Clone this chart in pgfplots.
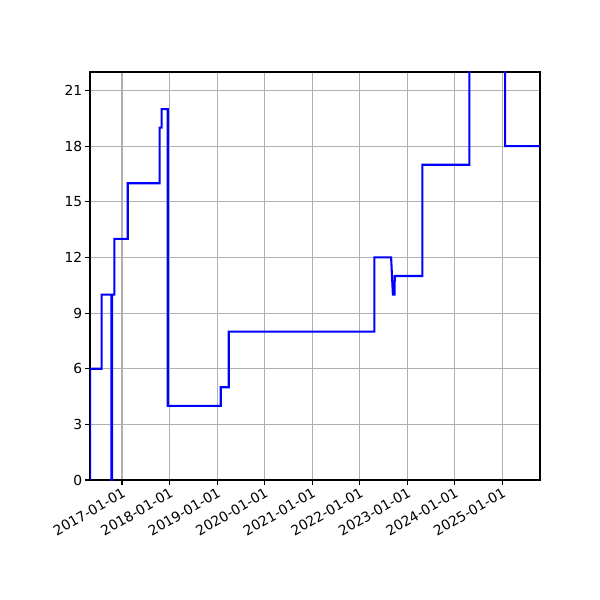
\documentclass[border=0pt]{standalone}
\usepackage{pgfplots}
\pgfplotsset{compat=1.18}
\usepackage{fontspec}
\setmainfont{DejaVu Sans}
\definecolor{gridgray}{HTML}{B0B0B0}
\begin{document}
\fontsize{10}{12}\selectfont
\begin{tikzpicture}
\begin{axis}[
  scale only axis,
  width=324bp, height=293.76bp,
  xmin=2016.326, xmax=2025.796,
  ymin=0, ymax=22,
  xtick={2017,2018,2019,2020,2021,2022,2023,2024,2025},
  xticklabels={2017-01-01,2018-01-01,2019-01-01,2020-01-01,2021-01-01,2022-01-01,2023-01-01,2024-01-01,2025-01-01},
  ytick={0,3,6,9,12,15,18,21},
  xticklabel style={rotate=30, anchor=north east, inner sep=1pt},
  yticklabel style={inner sep=2pt},
  /pgf/number format/assume math mode=true,
  tick align=outside, xtick pos=left, ytick pos=left,
  major tick length=3.5pt,
  tick style={black, line width=0.8pt},
  axis line style={line width=0.8pt},
  grid=major,
  grid style={gridgray, line width=0.8pt},
]
% step series (x in fractional years)
\addplot[blue, line width=1.5pt, sharp plot] coordinates {
  (2016.326,0) (2016.326,6) (2016.572,6) (2016.572,10) (2016.775,10)
  (2016.775,0) (2016.790,0) (2016.790,10) (2016.838,10) (2016.838,13)
  (2017.120,13) (2017.120,16) (2017.793,16) (2017.793,19) (2017.835,19)
  (2017.835,20) (2017.962,20) (2017.962,4) (2019.078,4) (2019.078,5)
  (2019.246,5) (2019.246,8) (2022.311,8) (2022.311,12) (2022.663,12)
  (2022.700,10) (2022.735,10) (2022.740,11) (2023.322,11) (2023.322,17)
  (2024.311,17) (2024.311,24) (2025.063,24) (2025.063,18) (2025.796,18)
};
\end{axis}
\path[use as bounding box] (current axis.south west) ++(-64.8bp,-86.4bp)
  rectangle ([shift={(43.2bp,51.84bp)}]current axis.north east);
\end{tikzpicture}
\end{document}
